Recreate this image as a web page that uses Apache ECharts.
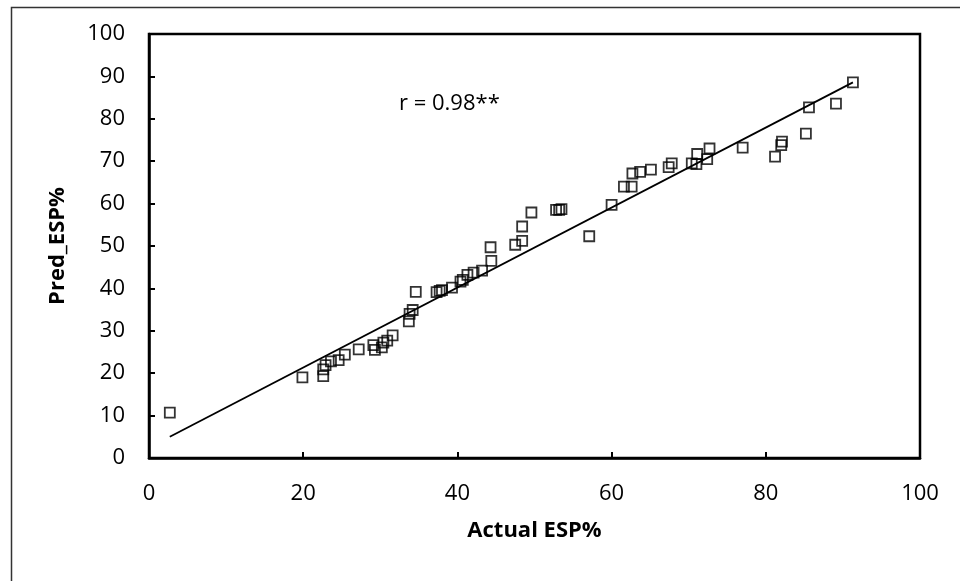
<!DOCTYPE html>
<html lang="en">
<head>
    <meta charset="UTF-8">
    <title>Pred vs Actual ESP%</title>
    <script src="https://cdn.jsdelivr.net/npm/echarts@6/dist/echarts.min.js"></script>
    <style>
        html, body { margin: 0; padding: 0; background: #fff; }
        #main { width: 960px; height: 581px; }
    </style>
</head>
<body>
<div id="main"></div>
<script>
    var actualEsp = [2.7, 19.9, 22.6, 22.6, 22.9, 23.6, 24.6, 25.4, 27.2, 29.1,
        29.3, 30.2, 30.4, 30.9, 31.6, 33.7, 33.8, 34.2, 34.6, 37.3,
        37.7, 38.0, 39.3, 40.4, 40.7, 41.3, 42.1, 43.2, 44.4, 44.3,
        47.5, 48.4, 48.4, 49.6, 52.8, 53.2, 53.5, 57.1, 60.0, 61.6,
        62.6, 62.7, 63.7, 65.1, 67.4, 67.8, 70.4, 71.0, 71.1, 72.4,
        72.7, 77.0, 81.2, 82.0, 82.1, 85.2, 85.6, 89.1, 91.3];
    var predEsp = [10.7, 19.0, 19.3, 20.9, 21.9, 22.8, 23.1, 24.4, 25.6, 26.6,
        25.5, 26.1, 27.2, 27.7, 28.9, 32.2, 34.0, 34.9, 39.2, 39.1,
        39.4, 39.6, 40.2, 41.6, 42.0, 43.2, 43.7, 44.2, 46.5, 49.7,
        50.3, 51.2, 54.6, 57.9, 58.5, 58.5, 58.7, 52.3, 59.7, 64.0,
        64.0, 67.1, 67.5, 68.0, 68.6, 69.5, 69.5, 69.3, 71.7, 70.5,
        73.0, 73.2, 71.1, 73.8, 74.6, 76.5, 82.7, 83.6, 88.6];

    // ends of the fitted line
    var fitX = [2.7, 91.3];
    var fitY = [5.0, 88.6];

    var axisTicks = [0, 20, 40, 60, 80, 100];
    var corrLabel = 'r = 0.98**';

    var points = [];
    for (var i = 0; i < actualEsp.length; i++) {
        points.push([actualEsp[i], predEsp[i]]);
    }
    var fitLine = [[fitX[0], fitY[0]], [fitX[1], fitY[1]]];

    var font = '"Open Sans", "DejaVu Sans", sans-serif';
    var myChart = echarts.init(document.getElementById('main'));

    var option = {
        backgroundColor: '#fff',
        animation: false,
        grid: {
            left: 149, top: 34, right: 40, bottom: 123,
            show: true,
            borderColor: '#000',
            borderWidth: 2.5,
            backgroundColor: 'transparent'
        },
        xAxis: {
            type: 'value',
            min: axisTicks[0],
            max: axisTicks[axisTicks.length - 1],
            interval: 20,
            name: 'Actual ESP%',
            nameLocation: 'middle',
            nameGap: 62,
            nameTextStyle: { color: '#000', fontFamily: font, fontSize: 22, fontWeight: 'bold' },
            axisLine: { show: true, lineStyle: { color: '#000', width: 2.5 } },
            axisTick: { show: true, inside: true, length: 6, lineStyle: { color: '#000', width: 2 } },
            axisLabel: { color: '#000', fontFamily: font, fontSize: 22, margin: 25 },
            splitLine: { show: false }
        },
        yAxis: {
            type: 'value',
            min: 0,
            max: 100,
            interval: 10,
            name: 'Pred_ESP%',
            nameLocation: 'middle',
            nameGap: 80,
            nameTextStyle: { color: '#000', fontFamily: font, fontSize: 22, fontWeight: 'bold' },
            axisLine: { show: true, lineStyle: { color: '#000', width: 2.5 } },
            axisTick: { show: true, inside: true, length: 6, lineStyle: { color: '#000', width: 2 } },
            axisLabel: { color: '#000', fontFamily: font, fontSize: 22, margin: 24 },
            splitLine: { show: false }
        },
        series: [
            {
                type: 'line',
                data: fitLine,
                symbol: 'none',
                lineStyle: { color: '#000', width: 1.8 },
                silent: true,
                z: 2
            },
            {
                type: 'scatter',
                data: points,
                symbol: 'rect',
                symbolSize: 10,
                itemStyle: { color: 'rgba(255,255,255,0)', borderColor: '#000', borderWidth: 1.8 },
                z: 3
            }
        ],
        graphic: [
            {
                type: 'rect',
                left: 9, top: 5,
                shape: { width: 970, height: 575 },
                style: { fill: 'none', stroke: '#333', lineWidth: 1.5 },
                silent: true
            },
            {
                type: 'text',
                left: 399, top: 93,
                style: { text: corrLabel, fill: '#000', font: '22px ' + font }
            }
        ]
    };

    myChart.setOption(option);
</script>
</body>
</html>
